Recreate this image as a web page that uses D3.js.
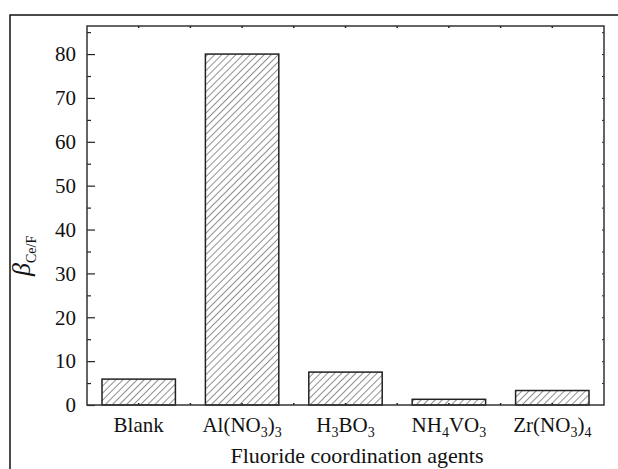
<!DOCTYPE html>
<html>
<head>
<meta charset="utf-8">
<script src="https://cdn.jsdelivr.net/npm/d3@7"></script>
<style>
  body { margin: 0; background: #fff; }
  svg text { font-family: "Liberation Serif", "DejaVu Serif", serif; fill: #111; }
</style>
</head>
<body>
<div id="container"></div>
<script>
/**
 * CONSTANTS AND DATA
 * */
const width = 618,
  height = 469,
  margin = { top: 26, right: 14, bottom: 64, left: 87 };

// categories, written as [main, subscript] pieces
const categories = ["Blank", "Al(NO3)3", "H3BO3", "NH4VO3", "Zr(NO3)4"];
const categoryParts = [
  [["Blank", false]],
  [["Al(NO", false], ["3", true], [")", false], ["3", true]],
  [["H", false], ["3", true], ["BO", false], ["3", true]],
  [["NH", false], ["4", true], ["VO", false], ["3", true]],
  [["Zr(NO", false], ["3", true], [")", false], ["4", true]]
];
const betaValues = [5.9, 80.0, 7.5, 1.3, 3.3];
const yTicks = [0, 10, 20, 30, 40, 50, 60, 70, 80];
const yMax = 86.4;

const svg = d3.select("#container")
  .append("svg")
  .attr("width", width)
  .attr("height", height);

// hatch pattern
const defs = svg.append("defs");
defs.append("pattern")
  .attr("id", "hatch")
  .attr("patternUnits", "userSpaceOnUse")
  .attr("width", 5)
  .attr("height", 5)
  .attr("patternTransform", "rotate(45)")
  .append("line")
  .attr("x1", 0).attr("y1", 0)
  .attr("x2", 0).attr("y2", 5)
  .attr("stroke", "#333")
  .attr("stroke-width", 1.1);

// outer frame (cut off at right and bottom in the original)
svg.append("rect")
  .attr("x", 10).attr("y", 15)
  .attr("width", width + 20).attr("height", height + 20)
  .attr("fill", "none")
  .attr("stroke", "#111")
  .attr("stroke-width", 1.5);

const x = d3.scaleBand()
  .domain(categories)
  .range([margin.left, width - margin.right])
  .paddingInner(0.29)
  .paddingOuter(0.145);

const y = d3.scaleLinear()
  .domain([0, yMax])
  .range([height - margin.bottom, margin.top]);

const x0 = margin.left, x1 = width - margin.right;
const y0 = height - margin.bottom, y1 = margin.top;

// bars
svg.selectAll("rect.bar")
  .data(betaValues)
  .join("rect")
  .attr("class", "bar")
  .attr("x", (d, i) => x(categories[i]))
  .attr("width", x.bandwidth())
  .attr("y", d => y(d))
  .attr("height", d => y(0) - y(d))
  .attr("fill", "url(#hatch)")
  .attr("stroke", "#222")
  .attr("stroke-width", 1.5);

// left axis (ticks inward)
const minor = d3.range(5, yMax, 10);
const left = svg.append("g").attr("transform", `translate(${x0},0)`);
left.call(d3.axisRight(y).tickValues(yTicks).tickSize(8).tickFormat(""));
left.append("g").call(d3.axisRight(y).tickValues(minor).tickSize(4).tickFormat(""));
left.selectAll(".domain").remove();
left.selectAll("line").attr("stroke", "#222").attr("stroke-width", 1.2);
svg.selectAll("text.ytick")
  .data(yTicks)
  .join("text")
  .attr("class", "ytick")
  .attr("x", x0 - 11)
  .attr("y", d => y(d))
  .attr("dy", "0.35em")
  .attr("text-anchor", "end")
  .attr("font-size", 21)
  .text(d => d);

// right axis, minor ticks inward
const right = svg.append("g").attr("transform", `translate(${x1},0)`);
right.call(d3.axisLeft(y).tickValues(d3.range(5, yMax, 5)).tickSize(2).tickFormat(""));
right.selectAll(".domain").remove();
right.selectAll("line").attr("stroke", "#222");

// top and bottom ticks at category centres and midpoints
const xTickPos = [];
categories.forEach((c, i) => {
  xTickPos.push(x(c) + x.bandwidth() / 2);
  if (i < categories.length - 1) xTickPos.push(x(c) + x.step() - (x.step() - x.bandwidth()) / 2);
});
svg.selectAll("line.ttick")
  .data(xTickPos)
  .join("line")
  .attr("class", "ttick")
  .attr("x1", d => d).attr("x2", d => d)
  .attr("y1", y1).attr("y2", y1 + 2)
  .attr("stroke", "#222").attr("stroke-width", 1.5);
svg.selectAll("line.btick")
  .data(xTickPos)
  .join("line")
  .attr("class", "btick")
  .attr("x1", d => d).attr("x2", d => d)
  .attr("y1", y0).attr("y2", y0 - 2)
  .attr("stroke", "#222").attr("stroke-width", 1.5);

// frame of plot area
svg.append("rect")
  .attr("x", x0).attr("y", y1)
  .attr("width", x1 - x0).attr("height", y0 - y1)
  .attr("fill", "none")
  .attr("stroke", "#333")
  .attr("stroke-width", 1.5);

// category labels with subscripts
const catLabels = svg.selectAll("text.cat")
  .data(categoryParts)
  .join("text")
  .attr("class", "cat")
  .attr("x", (d, i) => x(categories[i]) + x.bandwidth() / 2)
  .attr("y", 432)
  .attr("text-anchor", "middle")
  .attr("font-size", 21);
catLabels.each(function (parts) {
  const t = d3.select(this);
  parts.forEach(([s, sub], k) => {
    const ts = t.append("tspan").text(s);
    if (sub) ts.attr("font-size", 14).attr("dy", 5);
    else if (k > 0 && parts[k - 1][1]) ts.attr("dy", -5);
  });
});

// x title
svg.append("text")
  .attr("x", 357)
  .attr("y", 463)
  .attr("text-anchor", "middle")
  .attr("font-size", 22)
  .text("Fluoride coordination agents");

// y title: beta with subscript
const yt = svg.append("text")
  .attr("transform", "translate(30,276) rotate(-90)")
  .attr("text-anchor", "start");
yt.append("tspan")
  .attr("font-size", 26)
  .attr("font-style", "italic")
  .text("\u03B2");
yt.append("tspan")
  .attr("font-size", 14)
  .attr("dy", 6)
  .text("Ce/F");
</script>
</body>
</html>
